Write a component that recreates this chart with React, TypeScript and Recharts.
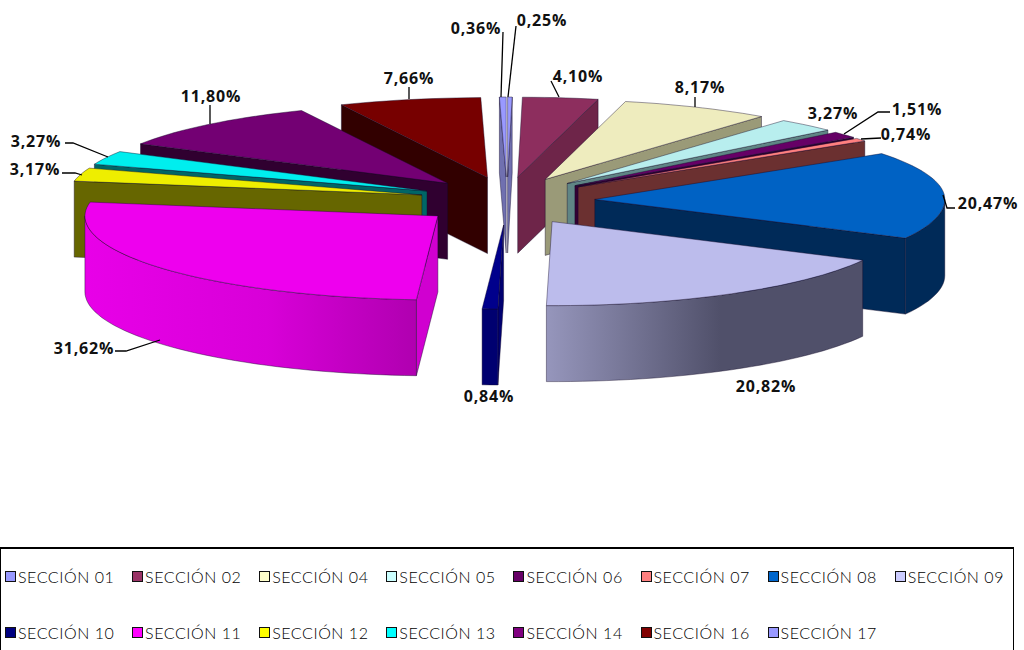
import React from "react";
import { PieChart, Pie, Legend } from "recharts";

const sections = ["SECCIÓN 01","SECCIÓN 02","SECCIÓN 04","SECCIÓN 05","SECCIÓN 06","SECCIÓN 07","SECCIÓN 08","SECCIÓN 09","SECCIÓN 10","SECCIÓN 11","SECCIÓN 12","SECCIÓN 13","SECCIÓN 14","SECCIÓN 16","SECCIÓN 17"];
const shares = [0.25,4.10,8.17,3.27,1.51,0.74,20.47,20.82,0.84,31.62,3.17,3.27,11.80,7.66,0.36];
const shareLabels = ["0,25%","4,10%","8,17%","3,27%","1,51%","0,74%","20,47%","20,82%","0,84%","31,62%","3,17%","3,27%","11,80%","7,66%","0,36%"];

const topColors = ["#9999ff","#8d2e5e","#eeecbe","#b8eeee","#660066","#ff8080","#0062c4","#bcbcec","#00008c","#ee00ee","#eeee00","#00eeee","#730073","#770000","#9999ff"];
const wallColors = ["#7070b0","#6e2549","#9a9a78","#5f8585","#330033","#6b3030","#002a58","#505068","#000070","#d000d0","#666600","#006666","#300030","#320000","#7070b0"];
const arcFrom = ["#7070b0","#6e2549","#9a9a78","#5f8585","#330033","#6b3030","#002a58","#50506a","#000070","#b000b0","#666600","#006666","#300030","#320000","#7070b0"];
const arcTo = ["#7070b0","#6e2549","#9a9a78","#5f8585","#330033","#6b3030","#002a58","#9696bc","#000070","#e800e8","#666600","#006666","#300030","#320000","#7070b0"];
const legendColors = ["#9999ff","#993366","#ffffcc","#ccffff","#660066","#ff8080","#0066cc","#ccccff","#000080","#ff00ff","#ffff00","#00ffff","#800080","#800000","#9999ff"];

// back-to-front painting sequence (indices into sections)
const paintOrder = [14,0,1,13,2,12,3,11,4,10,5,6,9,8,7];

// label placement: text centre and leader polyline
const labelCentres = [[542,20],[578,76],[700,87],[833,113],[917,109],[906,134],[988,203],[766,386],[489,396],[84,348],[35,169],[36,141],[211,96],[409,78],[476,28]];
const leaders = [
  [[516,26],[508,97]],
  [[551,81],[559,97]],
  [[695,97],[695,107]],
  [],
  [[890,112],[878,112],[844,134]],
  [[881,138],[861,139]],
  [[955,208],[947,208],[943,195]],
  [],
  [],
  [[115,351],[126,351],[160,340]],
  [[62,173],[75,173],[82,175]],
  [[65,143],[73,143],[108,157]],
  [[210,105],[210,124]],
  [[409,87],[409,99]],
  [[503,32],[501,97]],
];

const data = sections.map((name, i) => ({ name, value: shares[i] }));

const CX = 507, CY = 201, RX_RIGHT = 350, RX_LEFT = 353, RY_BACK = 80, RY_FRONT = 84, EX = 88, EY = 24, DEPTH = 76;
const rad = (d: number) => (d * Math.PI) / 180;

function sliceGeom(props: any) {
  const a0 = 90 - props.startAngle;
  const a1 = 90 - props.endAngle;
  const mid = (a0 + a1) / 2;
  const tip = [CX + EX * Math.sin(rad(mid)), CY - EY * Math.cos(rad(mid))];
  const at = (a: number, dy = 0) => {
    const c = Math.cos(rad(a));
    const s = Math.sin(rad(a));
    return [tip[0] + (s > 0 ? RX_RIGHT : RX_LEFT) * s, tip[1] - (c > 0 ? RY_BACK : RY_FRONT) * c + dy];
  };
  return { a0, a1, tip, at };
}
const pathOf = (pts: number[][]) => "M" + pts.map((p) => p[0].toFixed(1) + " " + p[1].toFixed(1)).join("L") + "Z";
function arcPts(at: any, from: number, to: number, dy = 0) {
  const n = Math.max(2, Math.ceil(Math.abs(to - from) / 2));
  const out: number[][] = [];
  for (let k = 0; k <= n; k++) out.push(at(from + ((to - from) * k) / n, dy));
  return out;
}

const EDGE = "rgba(20,10,40,0.6)";

function Slice3D({ props, only }: { props: any; only: number }) {
  const i = props.index;
  if (i !== only) return null;
  const { a0, a1, tip, at } = sliceGeom(props);
  const lower = (p: number[]) => [p[0], p[1] + DEPTH];
  const wall = (a: number) => [tip, at(a), lower(at(a)), lower(tip)];
  const frontFrom = Math.max(a0, 90);
  const frontTo = Math.min(a1, 270);
  const hasFront = frontTo > frontFrom;
  const front = hasFront ? arcPts(at, frontFrom, frontTo) : [];
  const showStartWall = Math.sin(rad(a0)) < 0;
  const showEndWall = Math.sin(rad(a1)) > 0;
  const gid = "arc-grad-" + i;
  return (
    <g>
      {hasFront && (
        <defs>
          <linearGradient id={gid} gradientUnits="userSpaceOnUse" x1={front[0][0]} x2={front[front.length - 1][0]} y1="0" y2="0">
            <stop offset="0" stopColor={arcFrom[i]} />
            <stop offset="0.45" stopColor={i === 9 ? "#d800d8" : arcFrom[i]} />
            <stop offset="1" stopColor={arcTo[i]} />
          </linearGradient>
        </defs>
      )}
      {showEndWall && <path d={pathOf(wall(a1))} fill={wallColors[i]} stroke={EDGE} strokeWidth={0.7} />}
      {showStartWall && <path d={pathOf(wall(a0))} fill={wallColors[i]} stroke={EDGE} strokeWidth={0.7} />}
      {hasFront && <path d={pathOf([...front, ...[...front].reverse().map(lower)])} fill={`url(#${gid})`} stroke={EDGE} strokeWidth={0.7} />}
      <path d={pathOf([tip, ...arcPts(at, a0, a1)])} fill={topColors[i]} stroke={EDGE} strokeWidth={0.7} />
    </g>
  );
}

function renderLabel(props: any) {
  const i = props.index;
  const c = labelCentres[i];
  const l = leaders[i];
  return (
    <g key={"lab" + i}>
      {l.length > 0 && <polyline points={l.map((p) => p.join(",")).join(" ")} fill="none" stroke="#000" strokeWidth={1.3} />}
      <text x={c[0]} y={c[1]} dy="0.36em" textAnchor="middle" fontFamily="'Open Sans', sans-serif" fontWeight={700} fontSize={16} letterSpacing={0.8} fill="#111">{shareLabels[i]}</text>
    </g>
  );
}

function LegendBox() {
  return (
    <div style={{ position: "absolute", left: 0, top: 547, width: 1014, height: 110, border: "1px solid #000", borderTopWidth: 2, boxSizing: "border-box", background: "#fff" }}>
      {sections.map((s, i) => (
        <div key={s} style={{ position: "absolute", left: 4 + (i % 8) * 127.1, top: i < 8 ? 16 : 72, height: 22, display: "flex", alignItems: "center", fontFamily: "'Lato', sans-serif", fontWeight: 300, fontSize: 16, letterSpacing: 0.55, color: "#000", whiteSpace: "nowrap" }}>
          <span style={{ display: "inline-block", width: 9, height: 9, marginRight: 2, background: legendColors[i], border: "1px solid #111" }} />
          {s}
        </div>
      ))}
    </div>
  );
}

export default function App() {
  return (
    <div style={{ position: "absolute", left: 0, top: 0, width: 1024, height: 650, overflow: "hidden", background: "#fff" }}>
      <PieChart width={1024} height={650} margin={{ top: 0, right: 0, bottom: 0, left: 0 }}>
        {paintOrder.map((idx) => (
          <Pie
            key={idx}
            data={data}
            dataKey="value"
            nameKey="name"
            cx={CX}
            cy={CY}
            outerRadius={RX_RIGHT}
            startAngle={90}
            endAngle={-270}
            stroke="none"
            isAnimationActive={false}
            legendType="none"
            shape={(p: any) => <Slice3D props={p} only={idx} />}
          />
        ))}
        <Pie
          data={data}
          dataKey="value"
          nameKey="name"
          cx={CX}
          cy={CY}
          outerRadius={RX_RIGHT}
          startAngle={90}
          endAngle={-270}
          isAnimationActive={false}
          legendType="none"
          shape={() => <g />}
          label={renderLabel}
          labelLine={false}
        />
        <Legend content={() => <LegendBox />} wrapperStyle={{ position: "absolute", left: 0, top: 0, width: 0, height: 0 }} />
      </PieChart>
    </div>
  );
}
